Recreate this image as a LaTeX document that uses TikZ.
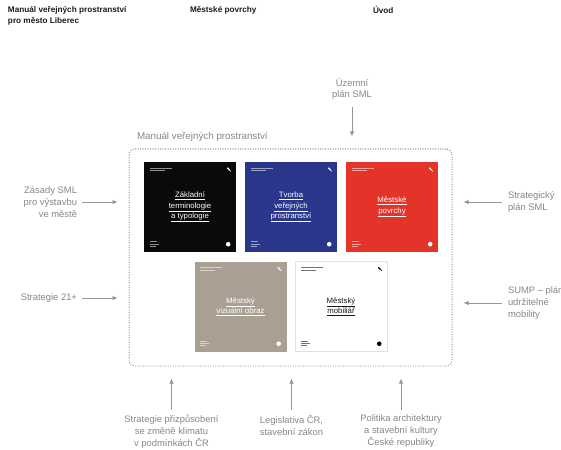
\documentclass[tikz,border=0pt]{standalone}
\usepackage{fontspec}
\setmainfont{Liberation Sans}
\setsansfont{Liberation Sans}
\usetikzlibrary{arrows.meta,positioning}

% tiny print on each cover: header, logo, footer, dot
\newcommand{\covermarks}[2]{%
\fill[#2,opacity=.55] ([xshift=6pt,yshift=-6pt]#1.north west) rectangle ++(22,0.9);
\fill[#2,opacity=.55] ([xshift=6pt,yshift=-8.4pt]#1.north west) rectangle ++(15,0.9);
\draw[#2,line width=1.2pt] ([xshift=-9pt,yshift=-6pt]#1.north east) -- ++(2.3,2.3);
\draw[#2,line width=0.7pt] ([xshift=-6.7pt,yshift=-8.3pt]#1.north east) -- ++(1.3,1.3);
\fill[#2,opacity=.55] ([xshift=6pt,yshift=11pt]#1.south west) rectangle ++(7,0.9);
\fill[#2,opacity=.55] ([xshift=6pt,yshift=8.7pt]#1.south west) rectangle ++(9,0.9);
\fill[#2,opacity=.55] ([xshift=6pt,yshift=6.4pt]#1.south west) rectangle ++(6,0.9);
\fill[#2] ([xshift=-8pt,yshift=8pt]#1.south east) circle (2.3pt);
}

\begin{document}
\begin{tikzpicture}[x=1pt,y=-1pt,
  head/.style={inner sep=0pt,outer sep=0pt,anchor=north west,align=left,text={rgb,255:red,28;green,28;blue,28},font=\sffamily\bfseries\fontsize{8.2}{11}\selectfont},
  src/.style={inner sep=0pt,outer sep=0pt,text={rgb,255:red,135;green,135;blue,135},font=\sffamily\fontsize{9.4}{11.8}\selectfont},
  arr/.style={draw={rgb,255:red,150;green,150;blue,150},line width=0.8pt,-{Latex[length=5pt,width=4.5pt]}},
  manualbox/.style={draw={rgb,255:red,150;green,150;blue,150},line width=1pt,dash pattern=on 0.9pt off 1.6pt,rounded corners=6pt,minimum width=323pt,minimum height=217pt,inner sep=0pt},
  cover/.style={minimum width=92pt,minimum height=90pt,inner sep=0pt,align=center,text=white,font=\sffamily\fontsize{7.8}{10.6}\selectfont},
]
\path[use as bounding box] (0,0) rectangle (561,449);
\path[fill=white,draw=none] (0,0) rectangle (561,449);

% running head
\node[head] (hdbook) at (8,6) {Manuál veřejných prostranství\\pro město Liberec};
\node[head] (hdchapter) at (190,6) {Městské povrchy};
\node[head] (hdsection) at (373,6) {Úvod};

% the manual and its five volumes
\node[manualbox] (manual) at (290.5,257.5) {};
\node[src,anchor=west,font=\sffamily\fontsize{9.8}{11}\selectfont] (manuallabel) at (137,137) {Manuál veřejných prostranství};

\node[cover,fill={rgb,255:red,10;green,10;blue,10}] (zakladni) at (190,207) {\underline{Základní}\\\underline{terminologie}\\\underline{a typologie}};
\node[cover,fill={rgb,255:red,42;green,54;blue,140}] (tvorba) at (291,207) {\underline{Tvorba}\\\underline{veřejných}\\\underline{prostranství}};
\node[cover,fill={rgb,255:red,228;green,52;blue,42}] (povrchy) at (392,207) {\underline{Městské}\\\underline{povrchy}};
\node[cover,fill={rgb,255:red,170;green,159;blue,147}] (vizualni) at (240.5,306.5) {\underline{Městský}\\\underline{vizuální obraz}};
\node[cover,fill=white,draw={rgb,255:red,225;green,225;blue,225},line width=0.5pt,text={rgb,255:red,25;green,25;blue,25}] (mobiliar) at (341,306.5) {\underline{Městský}\\\underline{mobiliář}};

\covermarks{zakladni}{white}
\covermarks{tvorba}{white}
\covermarks{povrchy}{white}
\covermarks{vizualni}{white}
\covermarks{mobiliar}{black}

% documents feeding in
\node[src,align=center] (uzemni) at (352,89) {Územní\\plán SML};
\node[src,align=right,anchor=east] (zasady) at (77,202) {Zásady SML\\pro výstavbu\\ve městě};
\node[src,anchor=east] (strategie21) at (77,298) {Strategie 21+};
\node[src,align=left,anchor=west] (strategicky) at (508,202) {Strategický\\plán SML};
\node[src,align=left,anchor=west] (sump) at (508,303) {SUMP – plán\\udržitelné\\mobility};
\node[src,align=center,anchor=north] (klima) at (171.5,415) {Strategie přizpůsobení\\se změně klimatu\\v podmínkách ČR};
\node[src,align=center,anchor=north] (legislativa) at (291.5,415) {Legislativa ČR,\\stavební zákon};
\node[src,align=center,anchor=north] (politika) at (401,415) {Politika architektury\\a stavební kultury\\České republiky};

\draw[arr,shorten <=7pt,shorten >=12pt] (uzemni) -- (uzemni |- manual.north);
\draw[arr,shorten <=5pt,shorten >=11pt] (zasady.east) -- (zasady.east -| manual.west);
\draw[arr,shorten <=5pt,shorten >=11pt] (strategie21.east) -- (strategie21.east -| manual.west);
\draw[arr,shorten <=6pt,shorten >=11pt] (strategicky.west) -- (strategicky.west -| manual.east);
\draw[arr,shorten <=6pt,shorten >=11pt] (sump.west) -- (sump.west -| manual.east);
\draw[arr,shorten <=5pt,shorten >=12pt] (klima.north) -- (klima.north |- manual.south);
\draw[arr,shorten <=5pt,shorten >=12pt] (legislativa.north) -- (legislativa.north |- manual.south);
\draw[arr,shorten <=5pt,shorten >=12pt] (politika.north) -- (politika.north |- manual.south);
\end{tikzpicture}
\end{document}
